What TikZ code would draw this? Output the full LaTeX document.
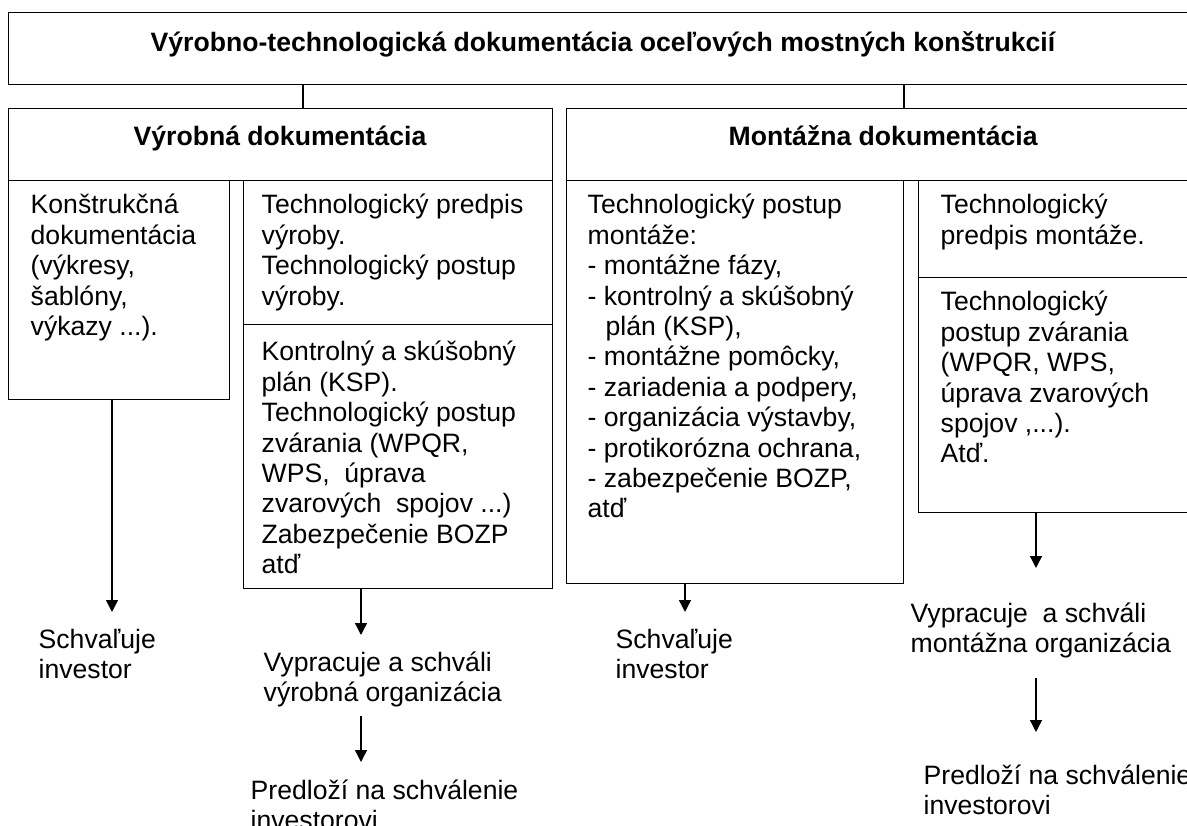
\documentclass[tikz,border=0pt]{standalone}
\usepackage{fontspec}
\setmainfont{Liberation Sans}
\usetikzlibrary{arrows.meta}
\newcommand{\mlines}[1]{\parbox[t]{420pt}{\raggedright #1}}
\begin{document}
\begin{tikzpicture}[x=1pt,y=-1pt,line width=1.4pt,
  box/.style={draw, rectangle, inner sep=0pt, anchor=north west},
  txt/.style={inner sep=0pt, anchor=base west, font=\fontsize{26.6}{30.4}\selectfont},
  ttl/.style={inner sep=0pt, anchor=base west, font=\fontsize{26.6}{30.4}\selectfont\bfseries},
  arr/.style={-{Triangle[length=12pt,width=12pt]}, line width=1.4pt}]
\useasboundingbox (0,0) rectangle (1187,826);
\fill[white] (0,0) rectangle (1187,826);
\clip (0,0) rectangle (1187,826);
% boxes
\node[box, minimum width=1200pt, minimum height=72pt] (btop) at (8,12) {};
\node[box, minimum width=544pt, minimum height=72pt] (bvyr) at (8,108) {};
\node[box, minimum width=640pt, minimum height=72pt] (bmon) at (566,108) {};
\node[box, minimum width=221pt, minimum height=219pt] (bkon) at (8,180) {};
\node[box, minimum width=309pt, minimum height=144pt] (bvt) at (243,180) {};
\node[box, minimum width=309pt, minimum height=264pt] (bvb) at (243,324) {};
\node[box, minimum width=337pt, minimum height=403pt] (bml) at (566,180) {};
\node[box, minimum width=290pt, minimum height=97pt] (bmrt) at (918,180) {};
\node[box, minimum width=290pt, minimum height=235pt] (bmrb) at (918,277) {};
% titles
\node[ttl] (ttitle) at (150,52) {Výrobno-technologická dokumentácia oceľových mostných konštrukcií};
\node[ttl, anchor=base] (tvyr) at (280,146) {Výrobná dokumentácia};
\node[ttl] (tmon) at (728,146) {Montážna dokumentácia};
% box texts
\node[txt] (tkon) at (30,214) {\mlines{Konštrukčná\\dokumentácia\\(výkresy,\\šablóny,\\výkazy ...).}};
\node[txt] (tvt) at (261,214) {\mlines{Technologický predpis\\výroby.\\Technologický postup\\výroby.}};
\node[txt] (tvb) at (261,361) {\mlines{Kontrolný a skúšobný\\plán (KSP).\\Technologický postup\\zvárania (WPQR,\\WPS,\ \ úprava\\zvarových\ \ spojov ...)\\Zabezpečenie BOZP\\atď}};
\node[txt] (tml) at (587,214) {\mlines{Technologický postup\\montáže:\\- montážne fázy,\\- kontrolný a skúšobný\\\hspace*{18pt}plán (KSP),\\- montážne pomôcky,\\- zariadenia a podpery,\\- organizácia výstavby,\\- protikorózna ochrana,\\- zabezpečenie BOZP,\\atď}};
\node[txt] (tmrt) at (940,214) {\mlines{Technologický\\predpis montáže.}};
\node[txt] (tmrb) at (940,311) {\mlines{Technologický\\postup zvárania\\(WPQR, WPS,\\úprava zvarových\\spojov ,...).\\Atď.}};
% labels below
\node[txt] (ts1) at (38,648) {\mlines{Schvaľuje\\investor}};
\node[txt] (tv1) at (263,671) {\mlines{Vypracuje a schváli\\výrobná organizácia}};
\node[txt] (tp1) at (250,799) {\mlines{Predloží na schválenie\\investorovi}};
\node[txt] (ts2) at (615,648) {\mlines{Schvaľuje\\investor}};
\node[txt] (tv2) at (910,622) {\mlines{Vypracuje\ \ a schváli\\montážna organizácia}};
\node[txt] (tp2) at (923,784) {\mlines{Predloží na schválenie\\investorovi}};
% connectors
\coordinate (c1) at (303,96);
\coordinate (c2) at (904,96);
\draw (c1 |- btop.south) -- (c1 |- bvyr.north);
\draw (c2 |- btop.south) -- (c2 |- bmon.north);
% arrows
\coordinate (a1) at (112,612);
\coordinate (a2) at (361,635);
\coordinate (a3) at (361,762);
\coordinate (a4) at (685,612);
\coordinate (a5) at (1036,568);
\coordinate (a6) at (1036,732);
\coordinate (s3) at ([yshift=-8pt]tv1.south);
\coordinate (s6) at ([yshift=-19pt]tv2.south);
\draw[arr] (a1 |- bkon.south) -- (a1);
\draw[arr] (a2 |- bvb.south) -- (a2);
\draw[arr] (s3 -| a3) -- (a3);
\draw[arr] (a4 |- bml.south) -- (a4);
\draw[arr] (a5 |- bmrb.south) -- (a5);
\draw[arr] (s6 -| a6) -- (a6);
\end{tikzpicture}
\end{document}
